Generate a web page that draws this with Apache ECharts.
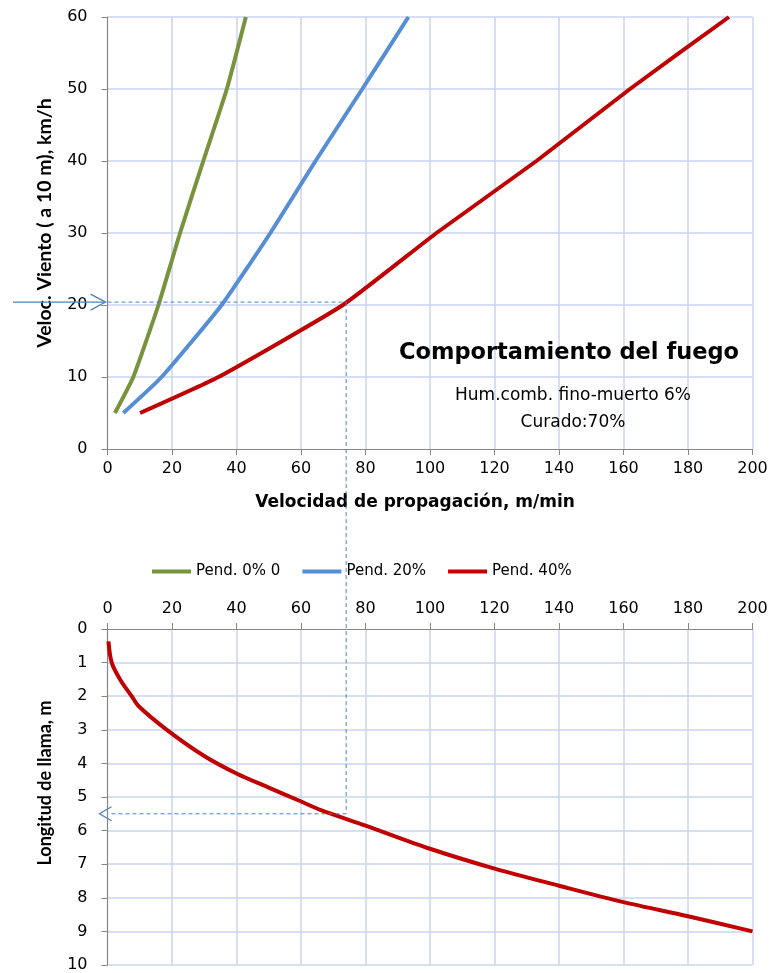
<!DOCTYPE html>
<html>
<head>
<meta charset="utf-8">
<script src="https://cdn.jsdelivr.net/npm/echarts@6/dist/echarts.min.js"></script>
<style>
  html, body { margin: 0; padding: 0; background: #fff; }
  #chart { width: 771px; height: 973px; }
</style>
</head>
<body>
<div id="chart"></div>
<script>
// wind speed (km/h) vs rate of spread (m/min) for three slopes
const windSpeeds = [5, 10, 20, 30, 40, 50, 60];
const rosSlope0 = [2.3, 8, 15.8, 22.5, 29.7, 37, 42.9];
const rosSlope20 = [4.9, 16.8, 35.4, 50.5, 64.5, 79, 93.3];
const rosSlope40 = [10.1, 34.4, 73, 102, 133, 162, 192.7];
const seriesNames = ["Pend. 0% 0", "Pend. 20%", "Pend. 40%"];
const seriesColors = ["#77933c", "#558ed5", "#c00000"];

// flame length (m) vs rate of spread (m/min)
const flameRos = [0.3, 1.3, 3.9, 7.5, 9.6, 18.4, 30, 40, 50, 59.7, 66.4, 80, 100, 120, 140, 160, 180, 200];
const flameLength = [0.37, 1, 1.5, 2, 2.29, 3, 3.78, 4.3, 4.72, 5.12, 5.4, 5.85, 6.54, 7.13, 7.64, 8.13, 8.55, 9.0];

// reading example drawn with dashed guides
const guideRos = 74;
const guideWind = 20.4;
const guideFlame = 5.5;

const font = "'DejaVu Sans', Verdana, sans-serif";
const narrowFont = "Lato, 'Noto Sans', sans-serif";
const gridColor = "#c9d6ee";
const axisColor = "#868686";
const guideColor = "#4f81bd";

const chart = echarts.init(document.getElementById("chart"));

const axisCommon = {
  type: "value",
  axisLine: { show: true, lineStyle: { color: axisColor, width: 1.2 } },
  axisTick: { show: true, length: 6, lineStyle: { color: axisColor } },
  splitLine: { show: true, showMinLine: false, lineStyle: { color: gridColor, width: 1.5 } },
  axisLabel: { color: "#000", fontSize: 16, fontFamily: font },
  nameTextStyle: { color: "#000", fontSize: 18, fontWeight: "bold", fontFamily: narrowFont },
};

const lineSeries = [rosSlope0, rosSlope20, rosSlope40].map((ros, i) => ({
  name: seriesNames[i],
  type: "line",
  xAxisIndex: 0,
  yAxisIndex: 0,
  data: windSpeeds.map((w, j) => [ros[j], w]),
  smooth: 0.15,
  symbol: "none",
  color: seriesColors[i],
  lineStyle: { width: 4, color: seriesColors[i] },
  z: 3,
}));

chart.setOption({
  animation: false,
  textStyle: { fontFamily: font },
  grid: [
    { left: 107.5, right: 18.5, top: 17, height: 432 },
    { left: 107.5, right: 18.5, top: 629, height: 338 },
  ],
  legend: {
    data: seriesNames,
    left: 147,
    top: 559,
    icon: "rect",
    itemWidth: 39,
    itemHeight: 4,
    itemGap: 22,
    textStyle: { fontSize: 15, color: "#000", fontFamily: font },
  },
  xAxis: [
    {
      ...axisCommon,
      gridIndex: 0,
      min: 0,
      max: 200,
      interval: 20,
      axisLabel: { ...axisCommon.axisLabel, margin: 12 },
      name: "Velocidad de propagación, m/min",
      nameLocation: "middle",
      nameGap: 45,
      nameTextStyle: { color: "#000", fontSize: 17, fontWeight: "bold", fontFamily: font, padding: [0, 30, 0, 0] },
    },
    {
      ...axisCommon,
      gridIndex: 1,
      position: "top",
      min: 0,
      max: 200,
      interval: 20,
      axisLabel: { ...axisCommon.axisLabel, margin: 12 },
    },
  ],
  yAxis: [
    {
      ...axisCommon,
      gridIndex: 0,
      min: 0,
      max: 60,
      interval: 10,
      axisLabel: { ...axisCommon.axisLabel, margin: 20 },
      name: "Veloc. Viento ( a 10 m), km/h",
      nameLocation: "middle",
      nameGap: 53,
      nameRotate: 90,
      nameTextStyle: { ...axisCommon.nameTextStyle, fontSize: 19.5, padding: [0, 0, 0, 20] },
    },
    {
      ...axisCommon,
      gridIndex: 1,
      inverse: true,
      min: 0,
      max: 10,
      interval: 1,
      axisLabel: { ...axisCommon.axisLabel, margin: 20 },
      name: "Longitud de llama, m",
      nameLocation: "middle",
      nameGap: 53,
      nameRotate: 90,
      nameTextStyle: { ...axisCommon.nameTextStyle, padding: [0, 0, 0, 28] },
    },
  ],
  series: [
    ...lineSeries,
    {
      name: "Longitud de llama",
      type: "line",
      xAxisIndex: 1,
      yAxisIndex: 1,
      data: flameRos.map((r, j) => [r, flameLength[j]]),
      smooth: 0.3,
      symbol: "none",
      lineStyle: { width: 4, color: "#c00000" },
      z: 3,
    },
  ],
});

// guide lines built from the data coordinates
const pTop = chart.convertToPixel({ xAxisIndex: 0, yAxisIndex: 0 }, [guideRos, guideWind]);
const pTopAxis = chart.convertToPixel({ xAxisIndex: 0, yAxisIndex: 0 }, [0, guideWind]);
const pBot = chart.convertToPixel({ xAxisIndex: 1, yAxisIndex: 1 }, [guideRos, guideFlame]);
const pBotAxis = chart.convertToPixel({ xAxisIndex: 1, yAxisIndex: 1 }, [0, guideFlame]);

const dashed = { stroke: guideColor, lineWidth: 1, lineDash: [4, 3] };
const solid = { stroke: guideColor, lineWidth: 1.3, fill: null };

chart.setOption({
  graphic: [
    { type: "line", shape: { x1: pTopAxis[0], y1: pTopAxis[1], x2: pTop[0], y2: pTop[1] }, style: dashed, z: 10 },
    { type: "line", shape: { x1: pTop[0], y1: pTop[1], x2: pBot[0], y2: pBot[1] }, style: dashed, z: 10 },
    { type: "line", shape: { x1: pBotAxis[0] + 4, y1: pBotAxis[1], x2: pBot[0], y2: pBot[1] }, style: dashed, z: 10 },
    { type: "line", shape: { x1: 13, y1: pTopAxis[1], x2: pTopAxis[0] - 2, y2: pTopAxis[1] }, style: solid, z: 10 },
    {
      type: "polyline",
      shape: { points: [[pTopAxis[0] - 17, pTopAxis[1] - 8], [pTopAxis[0] - 2, pTopAxis[1]], [pTopAxis[0] - 17, pTopAxis[1] + 8]] },
      style: solid,
      z: 10,
    },
    {
      type: "polyline",
      shape: { points: [[pBotAxis[0] + 4, pBotAxis[1] - 7], [pBotAxis[0] - 8, pBotAxis[1]], [pBotAxis[0] + 4, pBotAxis[1] + 7]] },
      style: solid,
      z: 10,
    },
    {
      type: "text",
      x: 569,
      y: 353,
      style: { text: "Comportamiento del fuego", fontSize: 22.5, fontWeight: "bold", fontFamily: font, fill: "#000", align: "center", verticalAlign: "middle" },
      z: 10,
    },
    {
      type: "text",
      x: 573,
      y: 396,
      style: { text: "Hum.comb. fino-muerto 6%", fontSize: 17, fontFamily: font, fill: "#000", align: "center", verticalAlign: "middle" },
      z: 10,
    },
    {
      type: "text",
      x: 573,
      y: 423,
      style: { text: "Curado:70%", fontSize: 17, fontFamily: font, fill: "#000", align: "center", verticalAlign: "middle" },
      z: 10,
    },
  ],
});

window.addEventListener("resize", () => chart.resize());
</script>
</body>
</html>
